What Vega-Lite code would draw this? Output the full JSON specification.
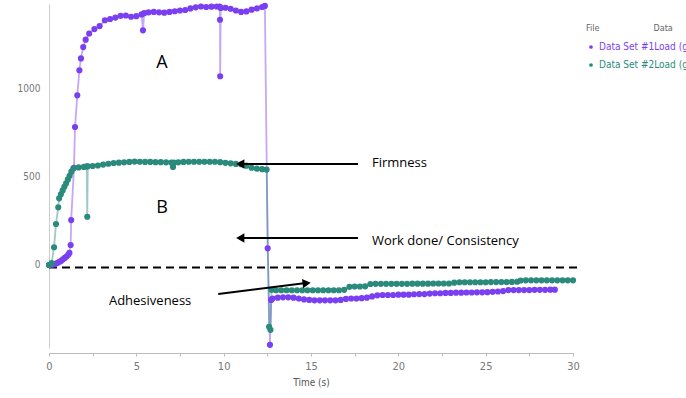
{
  "$schema": "https://vega.github.io/schema/vega-lite/v6.json",
  "autosize": {"type": "none"},
  "padding": {"left": 49, "top": 4, "right": 113, "bottom": 50},
  "width": 524,
  "height": 344,
  "background": "white",
  "config": {"view": {"stroke": null}, "font": "DejaVu Sans Condensed"},
  "datasets": {
    "curves": [
      {"t":0,"v":0,"f":"Data Set #1"},{"t":0.1,"v":1,"f":"Data Set #1"},{"t":0.2,"v":2,"f":"Data Set #1"},{"t":0.3,"v":4,"f":"Data Set #1"},{"t":0.4,"v":8,"f":"Data Set #1"},{"t":0.5,"v":12,"f":"Data Set #1"},{"t":0.6,"v":18,"f":"Data Set #1"},{"t":0.7,"v":24,"f":"Data Set #1"},{"t":0.8,"v":32,"f":"Data Set #1"},{"t":0.9,"v":40,"f":"Data Set #1"},{"t":1.0,"v":48,"f":"Data Set #1"},{"t":1.1,"v":58,"f":"Data Set #1"},{"t":1.17,"v":68,"f":"Data Set #1"},
      {"t":1.24,"v":113,"f":"Data Set #1"},{"t":1.27,"v":254,"f":"Data Set #1"},{"t":1.43,"v":550,"f":"Data Set #1"},{"t":1.49,"v":781,"f":"Data Set #1"},{"t":1.62,"v":960,"f":"Data Set #1"},{"t":1.74,"v":1102,"f":"Data Set #1"},{"t":1.83,"v":1169,"f":"Data Set #1"},{"t":1.96,"v":1233,"f":"Data Set #1"},{"t":2.1,"v":1275,"f":"Data Set #1"},{"t":2.3,"v":1310,"f":"Data Set #1"},{"t":2.6,"v":1335,"f":"Data Set #1"},{"t":2.9,"v":1352,"f":"Data Set #1"},{"t":3.2,"v":1385,"f":"Data Set #1"},{"t":3.5,"v":1392,"f":"Data Set #1"},{"t":3.8,"v":1400,"f":"Data Set #1"},{"t":4.1,"v":1410,"f":"Data Set #1"},{"t":4.4,"v":1412,"f":"Data Set #1"},{"t":4.7,"v":1405,"f":"Data Set #1"},{"t":5.0,"v":1408,"f":"Data Set #1"},{"t":5.3,"v":1418,"f":"Data Set #1"},{"t":5.38,"v":1328,"f":"Data Set #1"},{"t":5.45,"v":1425,"f":"Data Set #1"},{"t":5.7,"v":1430,"f":"Data Set #1"},{"t":6.0,"v":1432,"f":"Data Set #1"},{"t":6.3,"v":1430,"f":"Data Set #1"},{"t":6.6,"v":1428,"f":"Data Set #1"},{"t":6.9,"v":1432,"f":"Data Set #1"},{"t":7.2,"v":1436,"f":"Data Set #1"},{"t":7.5,"v":1440,"f":"Data Set #1"},{"t":7.8,"v":1443,"f":"Data Set #1"},{"t":8.1,"v":1452,"f":"Data Set #1"},{"t":8.4,"v":1458,"f":"Data Set #1"},{"t":8.7,"v":1463,"f":"Data Set #1"},{"t":9.0,"v":1460,"f":"Data Set #1"},{"t":9.3,"v":1462,"f":"Data Set #1"},{"t":9.6,"v":1463,"f":"Data Set #1"},{"t":9.77,"v":1463,"f":"Data Set #1"},{"t":9.79,"v":1388,"f":"Data Set #1"},{"t":9.8,"v":1068,"f":"Data Set #1"},{"t":9.83,"v":1455,"f":"Data Set #1"},{"t":10.1,"v":1456,"f":"Data Set #1"},{"t":10.4,"v":1450,"f":"Data Set #1"},{"t":10.7,"v":1440,"f":"Data Set #1"},{"t":11.0,"v":1432,"f":"Data Set #1"},{"t":11.3,"v":1435,"f":"Data Set #1"},{"t":11.6,"v":1445,"f":"Data Set #1"},{"t":11.9,"v":1452,"f":"Data Set #1"},{"t":12.2,"v":1460,"f":"Data Set #1"},{"t":12.36,"v":1466,"f":"Data Set #1"},
      {"t":12.52,"v":94,"f":"Data Set #1"},{"t":12.65,"v":-452,"f":"Data Set #1"},{"t":12.72,"v":-198,"f":"Data Set #1"},{"t":12.8,"v":-190,"f":"Data Set #1"},{"t":13.1,"v":-185,"f":"Data Set #1"},{"t":13.4,"v":-183,"f":"Data Set #1"},{"t":13.7,"v":-183,"f":"Data Set #1"},{"t":14.0,"v":-185,"f":"Data Set #1"},{"t":14.3,"v":-190,"f":"Data Set #1"},{"t":14.6,"v":-195,"f":"Data Set #1"},{"t":14.9,"v":-198,"f":"Data Set #1"},{"t":15.2,"v":-200,"f":"Data Set #1"},{"t":15.5,"v":-200,"f":"Data Set #1"},{"t":15.8,"v":-200,"f":"Data Set #1"},{"t":16.1,"v":-200,"f":"Data Set #1"},{"t":16.4,"v":-200,"f":"Data Set #1"},{"t":16.7,"v":-198,"f":"Data Set #1"},{"t":17.0,"v":-192,"f":"Data Set #1"},{"t":17.3,"v":-190,"f":"Data Set #1"},{"t":17.6,"v":-190,"f":"Data Set #1"},{"t":17.9,"v":-188,"f":"Data Set #1"},{"t":18.2,"v":-185,"f":"Data Set #1"},{"t":18.5,"v":-178,"f":"Data Set #1"},{"t":18.8,"v":-172,"f":"Data Set #1"},{"t":19.1,"v":-170,"f":"Data Set #1"},{"t":19.4,"v":-170,"f":"Data Set #1"},{"t":19.7,"v":-170,"f":"Data Set #1"},{"t":20.0,"v":-168,"f":"Data Set #1"},{"t":20.3,"v":-168,"f":"Data Set #1"},{"t":20.6,"v":-168,"f":"Data Set #1"},{"t":20.9,"v":-166,"f":"Data Set #1"},{"t":21.2,"v":-165,"f":"Data Set #1"},{"t":21.5,"v":-165,"f":"Data Set #1"},{"t":21.8,"v":-162,"f":"Data Set #1"},{"t":22.1,"v":-160,"f":"Data Set #1"},{"t":22.4,"v":-160,"f":"Data Set #1"},{"t":22.7,"v":-158,"f":"Data Set #1"},{"t":23.0,"v":-158,"f":"Data Set #1"},{"t":23.3,"v":-157,"f":"Data Set #1"},{"t":23.6,"v":-157,"f":"Data Set #1"},{"t":23.9,"v":-156,"f":"Data Set #1"},{"t":24.2,"v":-156,"f":"Data Set #1"},{"t":24.5,"v":-155,"f":"Data Set #1"},{"t":24.8,"v":-155,"f":"Data Set #1"},{"t":25.1,"v":-154,"f":"Data Set #1"},{"t":25.4,"v":-152,"f":"Data Set #1"},{"t":25.7,"v":-150,"f":"Data Set #1"},{"t":26.0,"v":-148,"f":"Data Set #1"},{"t":26.3,"v":-142,"f":"Data Set #1"},{"t":26.6,"v":-142,"f":"Data Set #1"},{"t":26.9,"v":-142,"f":"Data Set #1"},{"t":27.2,"v":-142,"f":"Data Set #1"},{"t":27.5,"v":-142,"f":"Data Set #1"},{"t":27.8,"v":-141,"f":"Data Set #1"},{"t":28.1,"v":-141,"f":"Data Set #1"},{"t":28.4,"v":-141,"f":"Data Set #1"},{"t":28.7,"v":-140,"f":"Data Set #1"},{"t":28.96,"v":-140,"f":"Data Set #1"},
      {"t":0,"v":0,"f":"Data Set #2"},{"t":0.15,"v":10,"f":"Data Set #2"},{"t":0.29,"v":100,"f":"Data Set #2"},{"t":0.4,"v":232,"f":"Data Set #2"},{"t":0.53,"v":326,"f":"Data Set #2"},{"t":0.58,"v":377,"f":"Data Set #2"},{"t":0.68,"v":400,"f":"Data Set #2"},{"t":0.78,"v":422,"f":"Data Set #2"},{"t":0.88,"v":442,"f":"Data Set #2"},{"t":0.98,"v":462,"f":"Data Set #2"},{"t":1.08,"v":484,"f":"Data Set #2"},{"t":1.18,"v":505,"f":"Data Set #2"},{"t":1.28,"v":528,"f":"Data Set #2"},{"t":1.39,"v":546,"f":"Data Set #2"},{"t":1.7,"v":552,"f":"Data Set #2"},{"t":2.0,"v":555,"f":"Data Set #2"},{"t":2.16,"v":558,"f":"Data Set #2"},{"t":2.19,"v":273,"f":"Data Set #2"},{"t":2.22,"v":558,"f":"Data Set #2"},{"t":2.5,"v":560,"f":"Data Set #2"},{"t":2.8,"v":563,"f":"Data Set #2"},{"t":3.1,"v":568,"f":"Data Set #2"},{"t":3.4,"v":573,"f":"Data Set #2"},{"t":3.7,"v":577,"f":"Data Set #2"},{"t":4.0,"v":579,"f":"Data Set #2"},{"t":4.3,"v":581,"f":"Data Set #2"},{"t":4.6,"v":583,"f":"Data Set #2"},{"t":4.9,"v":585,"f":"Data Set #2"},{"t":5.2,"v":584,"f":"Data Set #2"},{"t":5.5,"v":583,"f":"Data Set #2"},{"t":5.8,"v":583,"f":"Data Set #2"},{"t":6.1,"v":582,"f":"Data Set #2"},{"t":6.4,"v":582,"f":"Data Set #2"},{"t":6.7,"v":581,"f":"Data Set #2"},{"t":7.0,"v":580,"f":"Data Set #2"},{"t":7.1,"v":555,"f":"Data Set #2"},{"t":7.15,"v":580,"f":"Data Set #2"},{"t":7.4,"v":581,"f":"Data Set #2"},{"t":7.7,"v":583,"f":"Data Set #2"},{"t":8.0,"v":584,"f":"Data Set #2"},{"t":8.3,"v":584,"f":"Data Set #2"},{"t":8.6,"v":584,"f":"Data Set #2"},{"t":8.9,"v":584,"f":"Data Set #2"},{"t":9.2,"v":584,"f":"Data Set #2"},{"t":9.5,"v":584,"f":"Data Set #2"},{"t":9.8,"v":582,"f":"Data Set #2"},{"t":10.1,"v":578,"f":"Data Set #2"},{"t":10.4,"v":575,"f":"Data Set #2"},{"t":10.7,"v":572,"f":"Data Set #2"},{"t":11.0,"v":570,"f":"Data Set #2"},{"t":11.3,"v":562,"f":"Data Set #2"},{"t":11.6,"v":550,"f":"Data Set #2"},{"t":11.9,"v":545,"f":"Data Set #2"},{"t":12.2,"v":542,"f":"Data Set #2"},{"t":12.46,"v":540,"f":"Data Set #2"},
      {"t":12.6,"v":-350,"f":"Data Set #2"},{"t":12.68,"v":-367,"f":"Data Set #2"},{"t":12.74,"v":-141,"f":"Data Set #2"},{"t":13.0,"v":-143,"f":"Data Set #2"},{"t":13.3,"v":-143,"f":"Data Set #2"},{"t":13.6,"v":-143,"f":"Data Set #2"},{"t":13.9,"v":-143,"f":"Data Set #2"},{"t":14.2,"v":-143,"f":"Data Set #2"},{"t":14.5,"v":-143,"f":"Data Set #2"},{"t":14.8,"v":-143,"f":"Data Set #2"},{"t":15.1,"v":-143,"f":"Data Set #2"},{"t":15.4,"v":-143,"f":"Data Set #2"},{"t":15.7,"v":-143,"f":"Data Set #2"},{"t":16.0,"v":-143,"f":"Data Set #2"},{"t":16.3,"v":-143,"f":"Data Set #2"},{"t":16.6,"v":-143,"f":"Data Set #2"},{"t":16.9,"v":-141,"f":"Data Set #2"},{"t":17.2,"v":-124,"f":"Data Set #2"},{"t":17.5,"v":-122,"f":"Data Set #2"},{"t":17.8,"v":-122,"f":"Data Set #2"},{"t":18.1,"v":-121,"f":"Data Set #2"},{"t":18.4,"v":-108,"f":"Data Set #2"},{"t":18.7,"v":-107,"f":"Data Set #2"},{"t":19.0,"v":-107,"f":"Data Set #2"},{"t":19.3,"v":-107,"f":"Data Set #2"},{"t":19.6,"v":-107,"f":"Data Set #2"},{"t":19.9,"v":-107,"f":"Data Set #2"},{"t":20.2,"v":-107,"f":"Data Set #2"},{"t":20.5,"v":-107,"f":"Data Set #2"},{"t":20.8,"v":-106,"f":"Data Set #2"},{"t":21.1,"v":-106,"f":"Data Set #2"},{"t":21.4,"v":-106,"f":"Data Set #2"},{"t":21.7,"v":-106,"f":"Data Set #2"},{"t":22.0,"v":-105,"f":"Data Set #2"},{"t":22.3,"v":-105,"f":"Data Set #2"},{"t":22.6,"v":-105,"f":"Data Set #2"},{"t":22.9,"v":-105,"f":"Data Set #2"},{"t":23.2,"v":-100,"f":"Data Set #2"},{"t":23.5,"v":-98,"f":"Data Set #2"},{"t":23.8,"v":-98,"f":"Data Set #2"},{"t":24.1,"v":-98,"f":"Data Set #2"},{"t":24.4,"v":-98,"f":"Data Set #2"},{"t":24.7,"v":-98,"f":"Data Set #2"},{"t":25.0,"v":-98,"f":"Data Set #2"},{"t":25.3,"v":-97,"f":"Data Set #2"},{"t":25.6,"v":-97,"f":"Data Set #2"},{"t":25.9,"v":-97,"f":"Data Set #2"},{"t":26.2,"v":-97,"f":"Data Set #2"},{"t":26.5,"v":-96,"f":"Data Set #2"},{"t":26.8,"v":-95,"f":"Data Set #2"},{"t":27.0,"v":-88,"f":"Data Set #2"},{"t":27.3,"v":-87,"f":"Data Set #2"},{"t":27.6,"v":-87,"f":"Data Set #2"},{"t":27.9,"v":-87,"f":"Data Set #2"},{"t":28.2,"v":-87,"f":"Data Set #2"},{"t":28.5,"v":-87,"f":"Data Set #2"},{"t":28.8,"v":-87,"f":"Data Set #2"},{"t":29.1,"v":-87,"f":"Data Set #2"},{"t":29.4,"v":-87,"f":"Data Set #2"},{"t":29.7,"v":-87,"f":"Data Set #2"},{"t":30.0,"v":-87,"f":"Data Set #2"}
    ],
    "bigLetters": [
      {"x": 6.47, "y": 1143, "label": "A"},
      {"x": 6.47, "y": 323, "label": "B"}
    ],
    "labels": [
      {"x": 18.49, "y": 579, "label": "Firmness"},
      {"x": 18.49, "y": 138, "label": "Work done/ Consistency"},
      {"x": 3.43, "y": -204, "label": "Adhesiveness"}
    ],
    "arrowLines": [
      {"x": 17.69, "y": 572, "x2": 11.0, "y2": 572},
      {"x": 17.69, "y": 153, "x2": 11.0, "y2": 153},
      {"x": 9.69, "y": -164, "x2": 14.6, "y2": -104}
    ],
    "headsLeft": [
      {"x": 10.95, "y": 572},
      {"x": 10.95, "y": 153}
    ],
    "headsRight": [
      {"x": 14.75, "y": -103}
    ],
    "zeroLine": [
      {"x": 0, "x2": 30.28, "y": -14}
    ]
  },
  "layer": [
    {
      "data": {"name": "zeroLine"},
      "mark": {"type": "rule", "color": "black", "strokeWidth": 2, "strokeDash": [8, 5]},
      "encoding": {
        "x": {"field": "x", "type": "quantitative", "scale": {"domain": [0, 30], "nice": false, "zero": false},
          "axis": {"values": [0, 2.5, 5, 7.5, 10, 12.5, 15, 17.5, 20, 22.5, 25, 27.5, 30], "labelExpr": "datum.value % 5 === 0 ? datum.label : ''",
            "title": "Time (s)", "titleFontWeight": "normal", "titleFontSize": 10, "titleColor": "#555", "titlePadding": 6,
            "labelFontSize": 11, "labelColor": "#777", "labelPadding": 4, "domainColor": "#bbb", "tickColor": "#bbb", "tickSize": 3, "offset": 5, "grid": false, "labelFlush": false}},
        "x2": {"field": "x2"},
        "y": {"field": "y", "type": "quantitative", "scale": {"domain": [-470, 1477], "nice": false, "zero": false},
          "axis": {"values": [0, 500, 1000], "format": "d", "title": null, "ticks": false, "labelFontSize": 10, "labelColor": "#777", "labelPadding": 9, "domainColor": "#ccc", "grid": false}}
      }
    },
    {
      "mark": {"type": "rule", "color": "#ccc", "strokeWidth": 1},
      "encoding": {"y": {"datum": 1477, "type": "quantitative"}}
    },
    {
      "data": {"name": "curves"},
      "mark": {"type": "line", "strokeWidth": 1.8, "opacity": 0.45},
      "encoding": {
        "x": {"field": "t", "type": "quantitative"},
        "y": {"field": "v", "type": "quantitative"},
        "color": {"field": "f", "type": "nominal",
          "scale": {"domain": ["Data Set #1", "Data Set #2"], "range": ["#7b3ff2", "#2a8a7c"]},
          "legend": {"orient": "none", "legendX": 537, "legendY": 20, "title": "\u00a0\u00a0\u00a0\u00a0\u00a0\u00a0File\u00a0\u00a0\u00a0\u00a0\u00a0\u00a0\u00a0\u00a0\u00a0\u00a0\u00a0\u00a0\u00a0\u00a0\u00a0\u00a0\u00a0\u00a0\u00a0\u00a0\u00a0Data",
            "titleFontSize": 9, "titleFontWeight": "normal", "titleColor": "#666", "titlePadding": 9,
            "labelFontSize": 10, "labelExpr": "datum.label + 'Load (g)'",
            "labelColor": {"expr": "datum.value === 'Data Set #1' ? '#7b3ff2' : '#2a8a7c'"},
            "symbolType": "circle", "symbolSize": 14, "symbolStrokeWidth": 0, "symbolOpacity": 1, "labelOffset": 3, "rowPadding": 8,
            "encode": {"symbols": {"update": {"fill": {"scale": "color", "field": "value"}, "opacity": {"value": 1}, "fillOpacity": {"value": 1}}}}}}
      }
    },
    {
      "data": {"name": "curves"},
      "mark": {"type": "circle", "size": 38, "opacity": 1},
      "encoding": {
        "x": {"field": "t", "type": "quantitative"},
        "y": {"field": "v", "type": "quantitative"},
        "color": {"field": "f", "type": "nominal"}
      }
    },
    {
      "data": {"name": "arrowLines"},
      "mark": {"type": "rule", "color": "black", "strokeWidth": 2},
      "encoding": {
        "x": {"field": "x", "type": "quantitative"},
        "y": {"field": "y", "type": "quantitative"},
        "x2": {"field": "x2"},
        "y2": {"field": "y2"}
      }
    },
    {
      "data": {"name": "headsLeft"},
      "mark": {"type": "point", "shape": "triangle-left", "filled": true, "color": "black", "size": 90, "opacity": 1},
      "encoding": {
        "x": {"field": "x", "type": "quantitative"},
        "y": {"field": "y", "type": "quantitative"}
      }
    },
    {
      "data": {"name": "headsRight"},
      "mark": {"type": "point", "shape": "triangle-right", "filled": true, "color": "black", "size": 90, "opacity": 1, "angle": -7},
      "encoding": {
        "x": {"field": "x", "type": "quantitative"},
        "y": {"field": "y", "type": "quantitative"}
      }
    },
    {
      "data": {"name": "bigLetters"},
      "mark": {"type": "text", "font": "Open Sans", "fontSize": 18, "color": "black", "align": "center", "baseline": "middle"},
      "encoding": {
        "x": {"field": "x", "type": "quantitative"},
        "y": {"field": "y", "type": "quantitative"},
        "text": {"field": "label"}
      }
    },
    {
      "data": {"name": "labels"},
      "mark": {"type": "text", "font": "Open Sans", "fontSize": 13, "color": "black", "align": "left", "baseline": "middle"},
      "encoding": {
        "x": {"field": "x", "type": "quantitative"},
        "y": {"field": "y", "type": "quantitative"},
        "text": {"field": "label"}
      }
    }
  ]
}
